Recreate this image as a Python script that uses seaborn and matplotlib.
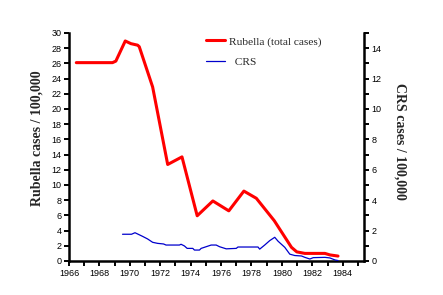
import matplotlib
matplotlib.use("Agg")
import matplotlib.pyplot as plt
import seaborn as sns
import numpy as np
from matplotlib.ticker import MultipleLocator
from matplotlib.lines import Line2D

# Rubella total cases per 100,000 (left axis)
rub_years = [1966.48, 1968.86, 1969.08, 1969.70, 1970.07, 1970.51, 1970.62, 1971.50,
             1972.49, 1973.43, 1974.43, 1975.46, 1976.51, 1977.50, 1978.32, 1979.50,
             1980.63, 1980.98, 1981.51, 1982.83, 1983.16, 1983.69]
rub_values = [26.1, 26.1, 26.3, 28.95, 28.6, 28.4, 28.2, 22.9,
              12.7, 13.7, 5.95, 7.9, 6.6, 9.2, 8.25, 5.3,
              1.8, 1.2, 1.0, 1.0, 0.8, 0.65]

# CRS cases per 100,000 (right axis)
crs_years = [1969.52, 1970.11, 1970.34, 1970.55, 1970.84, 1971.17, 1971.50, 1971.83,
             1972.22, 1972.38, 1973.26, 1973.37, 1973.59, 1973.77, 1974.14, 1974.25,
             1974.58, 1974.69, 1975.02, 1975.35, 1975.68, 1975.90, 1976.34, 1977.00,
             1977.11, 1978.43, 1978.54, 1978.87, 1979.20, 1979.53, 1979.75, 1980.19,
             1980.52, 1980.85, 1981.29, 1981.51, 1981.84, 1982.06, 1982.83, 1983.16,
             1983.49, 1983.69]
crs_values = [1.76, 1.76, 1.86, 1.76, 1.62, 1.45, 1.23, 1.16,
              1.12, 1.05, 1.05, 1.10, 0.99, 0.83, 0.83, 0.72,
              0.72, 0.83, 0.94, 1.05, 1.05, 0.94, 0.80, 0.83,
              0.92, 0.92, 0.78, 1.05, 1.34, 1.56, 1.30, 0.90,
              0.45, 0.36, 0.33, 0.24, 0.13, 0.22, 0.24, 0.20,
              0.07, 0.03]

x_ticks = list(range(1966, 1985, 2))

sns.set_style("ticks")
plt.rcParams['font.family'] = ['Liberation Sans', 'DejaVu Sans']

fig = plt.figure(figsize=(4.43, 2.95), dpi=100)
ax = fig.add_axes([69/443, 34/295, (364-69)/443, (261-33)/295])
ax2 = ax.twinx()

red = '#FF0000'
blue = '#0000CC'
sns.lineplot(x=rub_years, y=rub_values, ax=ax, color=red, linewidth=2.2, sort=False)
sns.lineplot(x=crs_years, y=crs_values, ax=ax2, color=blue, linewidth=0.9, sort=False)

ax.set_xlim(1966, 1985.4)
ax.set_ylim(0, 30)
ax2.set_ylim(0, 15)

ax.xaxis.set_major_locator(MultipleLocator(2))
ax.xaxis.set_minor_locator(MultipleLocator(1))
ax.yaxis.set_major_locator(MultipleLocator(2))
ax2.yaxis.set_major_locator(MultipleLocator(2))
ax2.yaxis.set_minor_locator(MultipleLocator(1))
ax.set_xticks(x_ticks)

for a in (ax, ax2):
    a.spines['top'].set_visible(False)
    for s in ('left', 'right', 'bottom'):
        a.spines[s].set_linewidth(1.8)
        a.spines[s].set_color('black')
    a.tick_params(which='both', direction='out', width=1.4, length=3.5,
                  labelsize=6.5, colors='black', pad=2)
ax.spines['right'].set_visible(False)
ax2.spines['left'].set_visible(False)
ax2.spines['bottom'].set_visible(False)

ax.set_xlabel('')
ax.set_ylabel('Rubella cases / 100,000', family=['Liberation Serif'],
              fontweight='bold', fontsize=10)
ax.yaxis.set_label_coords(-0.109, 0.54)
ax2.set_ylabel('CRS cases / 100,000', family=['Liberation Serif'],
               fontweight='bold', fontsize=10, rotation=-90)
ax2.yaxis.set_label_coords(1.122, 0.526)
ax.yaxis.label.set_va('center')
ax2.yaxis.label.set_va('center')

handles = [Line2D([], [], color=red, linewidth=2.2),
           Line2D([], [], color=blue, linewidth=0.9)]
leg = ax.legend(handles, ['Rubella (total cases)', '  CRS'], loc='upper left',
                bbox_to_anchor=(0.43, 1.03), frameon=False,
                prop={'family': 'Liberation Serif', 'size': 8.2},
                handlelength=1.7, handletextpad=0.35, labelspacing=0.95)

fig.savefig('out.png', dpi=100)
